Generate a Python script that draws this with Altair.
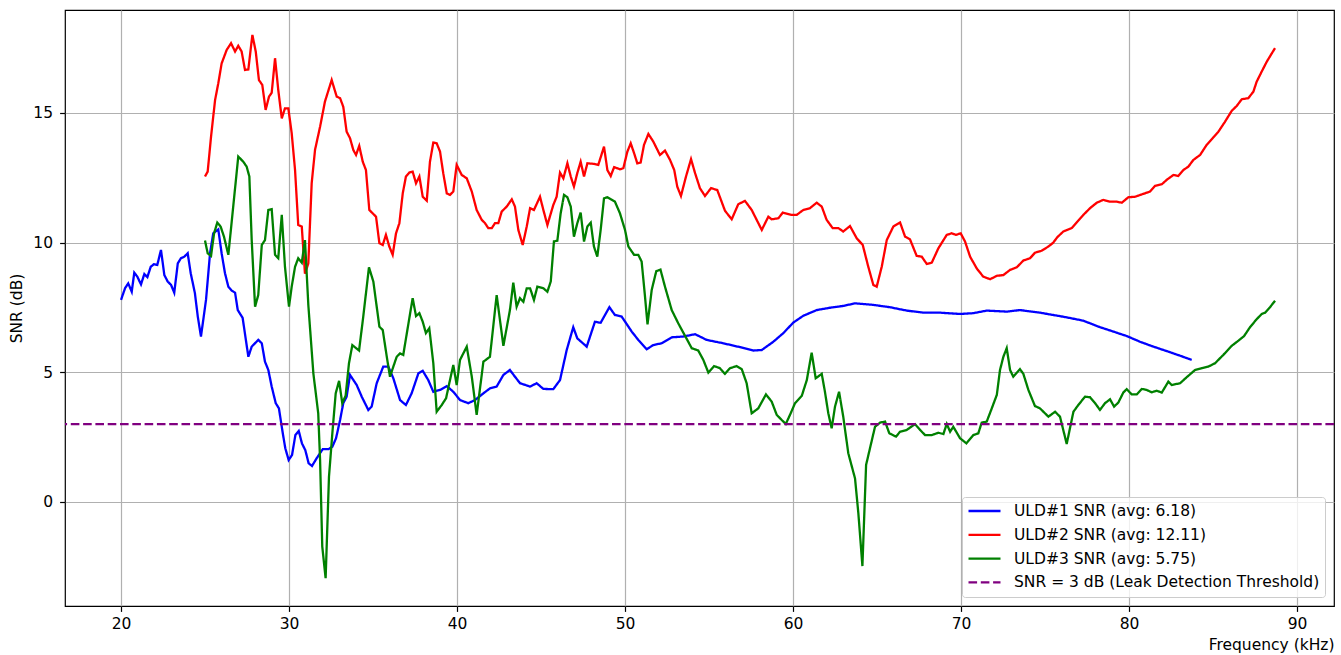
import altair as alt
import pandas as pd

# ---- series names (legend order) ----
names = [
    "ULD#1 SNR (avg: 6.18)",
    "ULD#2 SNR (avg: 12.11)",
    "ULD#3 SNR (avg: 5.75)",
    "SNR = 3 dB (Leak Detection Threshold)",
]
colors = ["blue", "red", "green", "purple"]
threshold_db = 3

# ---- ULD#1 ----
uld1_freq = [
    20.00, 20.24, 20.43, 20.64, 20.79, 20.97, 21.19, 21.39, 21.57, 21.77,
    21.96, 22.16, 22.38, 22.58, 22.78, 22.98, 23.17, 23.38, 23.57, 23.77,
    23.97, 24.15, 24.40, 24.57, 24.76, 25.06, 25.30, 25.49, 25.79, 25.99,
    26.19, 26.39, 26.59, 26.79, 26.95, 27.24, 27.58, 27.78, 28.17, 28.38,
    28.57, 28.77, 28.97, 29.21, 29.40, 29.63, 29.78, 29.98, 30.18, 30.38,
    30.58, 30.77, 30.97, 31.17, 31.37, 31.65, 32.01, 32.36, 32.58, 32.80,
    33.04, 33.23, 33.43, 33.63, 34.03, 34.33, 34.72, 34.92, 35.22, 35.61,
    35.91, 36.21, 36.61, 36.96, 37.30, 37.70, 37.96, 38.29, 38.59, 38.99,
    39.39, 39.78, 40.18, 40.67, 41.07, 41.57, 41.96, 42.36, 42.76, 43.15,
    43.45, 43.75, 44.35, 44.74, 45.14, 45.73, 46.13, 46.53, 46.92, 47.16,
    47.72, 48.21, 48.55, 49.07, 49.40, 49.80, 50.40, 50.79, 51.29, 51.68,
    52.18, 52.78, 53.47, 54.17, 54.86, 55.85, 56.85, 57.64, 58.14, 58.83,
    59.42, 60.02, 60.61, 61.41, 62.20, 62.99, 63.69, 64.78, 65.77, 66.77,
    67.76, 68.75, 69.94, 70.73, 71.53, 72.72, 73.51, 74.70, 75.49, 76.29,
    77.28, 78.27, 79.07, 79.86, 80.65, 81.45, 82.24, 83.04, 83.73,
]
uld1_snr = [
    7.79, 8.24, 8.43, 8.11, 8.84, 8.69, 8.39, 8.79, 8.67, 9.07,
    9.17, 9.14, 9.72, 8.75, 8.50, 8.37, 8.07, 9.20, 9.40, 9.46,
    9.59, 8.82, 8.05, 7.15, 6.38, 7.79, 9.59, 10.36, 10.51, 9.59,
    8.82, 8.30, 8.15, 8.07, 7.40, 7.10, 5.60, 5.99, 6.25, 6.12,
    5.41, 5.09, 4.45, 3.81, 3.61, 2.65, 2.07, 1.62, 1.81, 2.58,
    2.74, 2.26, 2.00, 1.49, 1.39, 1.69, 2.04, 2.04, 2.13, 2.46,
    3.16, 3.81, 4.06, 4.90, 4.51, 4.06, 3.55, 3.68, 4.58, 5.22,
    5.22, 4.77, 3.93, 3.74, 4.19, 4.96, 5.06, 4.70, 4.25, 4.32,
    4.47, 4.25, 3.93, 3.81, 3.93, 4.19, 4.38, 4.45, 4.90, 5.09,
    4.83, 4.58, 4.45, 4.58, 4.36, 4.35, 4.70, 5.86, 6.74, 6.31,
    5.99, 6.95, 6.91, 7.51, 7.21, 7.15, 6.57, 6.25, 5.89, 6.05,
    6.12, 6.35, 6.38, 6.47, 6.25, 6.12, 5.97, 5.84, 5.86, 6.18,
    6.51, 6.92, 7.18, 7.40, 7.49, 7.56, 7.66, 7.60, 7.51, 7.38,
    7.30, 7.30, 7.25, 7.28, 7.38, 7.34, 7.40, 7.30, 7.21, 7.12,
    6.99, 6.74, 6.57, 6.40, 6.18, 5.99, 5.82, 5.64, 5.48,
]

# ---- ULD#2 ----
uld2_freq = [
    25.00, 25.16, 25.36, 25.60, 25.79, 25.99, 26.29, 26.55, 26.79, 26.98,
    27.18, 27.38, 27.58, 27.82, 28.02, 28.21, 28.41, 28.61, 28.81, 28.97,
    29.17, 29.36, 29.57, 29.76, 29.96, 30.16, 30.36, 30.55, 30.76, 30.95,
    31.15, 31.35, 31.55, 31.85, 32.14, 32.54, 32.84, 33.04, 33.23, 33.43,
    33.63, 33.83, 33.99, 34.18, 34.39, 34.58, 34.78, 34.98, 35.18, 35.38,
    35.58, 35.77, 35.97, 36.17, 36.37, 36.57, 36.77, 36.96, 37.16, 37.36,
    37.56, 37.76, 37.96, 38.20, 38.39, 38.59, 38.79, 38.99, 39.18, 39.39,
    39.58, 39.78, 39.98, 40.28, 40.58, 40.88, 41.17, 41.47, 41.67, 41.86,
    42.07, 42.26, 42.46, 42.66, 42.96, 43.26, 43.45, 43.65, 43.91, 44.15,
    44.35, 44.58, 44.94, 45.14, 45.38, 45.73, 45.93, 46.13, 46.33, 46.57,
    46.77, 46.96, 47.16, 47.36, 47.56, 47.76, 48.11, 48.41, 48.75, 48.95,
    49.15, 49.35, 49.70, 49.90, 50.14, 50.34, 50.54, 50.73, 50.93, 51.13,
    51.39, 51.68, 52.08, 52.38, 52.68, 52.93, 53.11, 53.33, 53.63, 53.93,
    54.17, 54.46, 54.76, 55.12, 55.49, 55.95, 56.35, 56.74, 57.14, 57.54,
    58.14, 58.53, 58.73, 59.13, 59.39, 59.92, 60.22, 60.61, 61.01, 61.41,
    61.71, 62.00, 62.36, 62.70, 62.99, 63.39, 63.79, 64.15, 64.48, 64.78,
    64.98, 65.28, 65.58, 65.97, 66.37, 66.67, 66.96, 67.36, 67.66, 67.96,
    68.26, 68.65, 69.15, 69.45, 69.70, 69.98, 70.24, 70.54, 70.93, 71.32,
    71.73, 72.13, 72.52, 72.92, 73.32, 73.71, 74.11, 74.40, 74.80, 75.20,
    75.49, 75.73, 76.09, 76.59, 76.92, 77.28, 77.68, 78.08, 78.47, 78.87,
    79.27, 79.57, 79.96, 80.36, 80.85, 81.25, 81.55, 81.95, 82.24, 82.64,
    82.93, 83.23, 83.53, 83.83, 84.23, 84.62, 85.02, 85.32, 85.71, 86.11,
    86.41, 86.71, 87.10, 87.40, 87.60, 87.90, 88.20, 88.50, 88.69,
]
uld2_snr = [
    12.55, 12.74, 14.09, 15.50, 16.14, 16.91, 17.43, 17.69, 17.37, 17.59,
    17.37, 16.66, 16.68, 18.01, 17.37, 16.27, 16.08, 15.12, 15.63, 15.78,
    17.11, 15.89, 14.79, 15.18, 15.18, 14.22, 12.80, 10.68, 10.62, 8.80,
    9.20, 12.29, 13.58, 14.47, 15.44, 16.27, 15.63, 15.57, 15.24, 14.28,
    14.03, 13.57, 13.38, 13.73, 13.12, 12.80, 11.26, 11.13, 11.00, 9.98,
    9.91, 10.30, 9.85, 9.53, 10.36, 10.75, 11.90, 12.55, 12.70, 12.74,
    12.29, 12.55, 11.77, 11.62, 13.12, 13.86, 13.83, 13.51, 12.68, 11.90,
    11.84, 11.97, 13.00, 12.61, 12.48, 11.97, 11.26, 10.88, 10.75, 10.56,
    10.56, 10.75, 10.75, 11.20, 11.39, 11.67, 11.39, 10.49, 9.91, 10.62,
    11.33, 11.26, 11.77, 11.26, 10.68, 11.45, 11.77, 12.70, 12.48, 13.06,
    12.55, 12.16, 12.68, 13.12, 12.55, 13.06, 13.04, 13.00, 13.70, 12.80,
    12.57, 12.91, 12.83, 12.87, 13.51, 13.83, 13.45, 13.06, 13.09, 13.77,
    14.19, 13.90, 13.38, 13.55, 13.19, 12.80, 12.16, 11.80, 12.55, 13.22,
    12.68, 12.10, 11.80, 12.10, 12.03, 11.23, 10.90, 11.48, 11.61, 11.26,
    10.49, 11.00, 10.90, 10.94, 11.16, 11.07, 11.07, 11.26, 11.33, 11.54,
    11.39, 10.88, 10.56, 10.56, 10.43, 10.64, 10.17, 9.91, 9.07, 8.37,
    8.30, 9.07, 10.10, 10.62, 10.78, 10.23, 10.13, 9.49, 9.46, 9.18,
    9.23, 9.78, 10.30, 10.36, 10.30, 10.36, 10.04, 9.46, 9.01, 8.69,
    8.59, 8.72, 8.75, 8.95, 9.05, 9.31, 9.40, 9.61, 9.69, 9.85,
    10.00, 10.21, 10.43, 10.56, 10.81, 11.07, 11.33, 11.54, 11.65, 11.58,
    11.58, 11.54, 11.75, 11.77, 11.88, 11.97, 12.19, 12.25, 12.42, 12.61,
    12.57, 12.80, 12.93, 13.19, 13.38, 13.77, 14.06, 14.28, 14.66, 15.08,
    15.27, 15.53, 15.57, 15.82, 16.21, 16.60, 16.98, 17.30, 17.50,
]

# ---- ULD#3 ----
uld3_freq = [
    25.00, 25.16, 25.36, 25.54, 25.73, 25.93, 26.13, 26.39, 26.68, 26.98,
    27.28, 27.48, 27.64, 27.78, 27.98, 28.17, 28.38, 28.57, 28.77, 28.97,
    29.17, 29.36, 29.57, 29.76, 30.00, 30.16, 30.36, 30.55, 30.76, 30.95,
    31.15, 31.45, 31.74, 31.85, 31.98, 32.18, 32.38, 32.58, 32.78, 32.98,
    33.17, 33.37, 33.57, 33.77, 34.17, 34.42, 34.76, 35.02, 35.38, 35.58,
    35.82, 36.01, 36.21, 36.41, 36.61, 36.80, 37.16, 37.36, 37.56, 37.76,
    37.96, 38.15, 38.35, 38.59, 38.79, 39.09, 39.35, 39.54, 39.78, 39.98,
    40.18, 40.58, 40.88, 41.17, 41.57, 41.96, 42.36, 42.76, 43.15, 43.35,
    43.55, 43.75, 43.95, 44.15, 44.35, 44.58, 44.78, 45.14, 45.38, 45.58,
    45.77, 45.97, 46.17, 46.37, 46.57, 46.77, 46.96, 47.16, 47.36, 47.56,
    47.76, 47.96, 48.15, 48.35, 48.55, 48.75, 48.95, 49.21, 49.40, 49.70,
    50.00, 50.20, 50.54, 50.79, 50.99, 51.19, 51.34, 51.59, 51.86, 52.11,
    52.38, 52.78, 53.17, 53.57, 53.97, 54.36, 54.66, 54.96, 55.30, 55.65,
    55.95, 56.25, 56.65, 56.95, 57.24, 57.54, 57.93, 58.39, 58.73, 59.03,
    59.33, 59.57, 59.82, 60.12, 60.52, 60.82, 61.11, 61.35, 61.71, 61.90,
    62.10, 62.30, 62.50, 62.74, 62.99, 63.29, 63.69, 63.89, 64.13, 64.35,
    64.58, 64.88, 65.18, 65.48, 65.73, 66.13, 66.37, 66.77, 67.26, 67.56,
    67.86, 68.26, 68.65, 68.95, 69.15, 69.35, 69.54, 69.94, 70.32, 70.73,
    71.03, 71.23, 71.53, 71.83, 72.13, 72.32, 72.52, 72.72, 72.92, 73.11,
    73.51, 73.71, 74.01, 74.40, 74.70, 75.20, 75.60, 75.89, 76.29, 76.69,
    76.98, 77.38, 77.68, 77.98, 78.27, 78.57, 78.87, 79.11, 79.36, 79.66,
    79.86, 80.16, 80.46, 80.76, 81.05, 81.35, 81.65, 81.95, 82.34, 82.54,
    83.04, 83.43, 83.93, 84.33, 84.72, 85.12, 85.61, 86.11, 86.51, 86.85,
    87.20, 87.60, 87.90, 88.10, 88.39, 88.69,
]
uld3_snr = [
    10.08, 9.59, 9.49, 10.36, 10.77, 10.62, 10.23, 9.53, 11.39, 13.32,
    13.12, 12.93, 12.55, 10.10, 7.53, 7.98, 9.91, 10.10, 11.26, 11.29,
    9.53, 9.40, 11.07, 9.07, 7.53, 8.30, 9.07, 9.40, 9.23, 10.10,
    7.60, 4.96, 3.42, 1.62, -1.72, -2.94, 0.98, 2.65, 4.19, 4.67,
    3.81, 4.10, 5.35, 6.05, 5.84, 7.15, 9.05, 8.50, 6.76, 6.63,
    5.60, 4.83, 5.22, 5.60, 5.73, 5.67, 7.08, 7.86, 7.17, 7.28,
    6.95, 6.51, 6.70, 5.35, 3.48, 3.74, 4.00, 4.58, 5.28, 4.51,
    5.48, 5.99, 4.83, 3.36, 5.41, 5.60, 7.98, 6.02, 7.40, 8.46,
    7.53, 7.86, 7.72, 8.24, 8.24, 7.79, 8.30, 8.24, 8.11, 8.50,
    10.05, 10.07, 11.13, 11.84, 11.75, 11.39, 10.23, 10.75, 11.16, 10.04,
    10.62, 10.77, 9.85, 9.46, 10.49, 11.71, 11.75, 11.65, 11.58, 11.13,
    10.49, 9.85, 9.53, 9.53, 9.27, 7.92, 6.85, 8.18, 8.90, 8.96,
    8.30, 7.40, 6.89, 6.41, 5.93, 5.84, 5.48, 4.99, 5.24, 5.16,
    4.94, 5.16, 5.24, 5.12, 4.58, 3.42, 3.61, 4.15, 3.87, 3.36,
    3.16, 3.01, 3.36, 3.81, 4.09, 4.70, 5.76, 4.77, 4.94, 4.25,
    3.42, 2.84, 3.68, 4.25, 3.29, 1.88, 0.91, -0.44, -2.47, 1.43,
    2.07, 2.90, 3.06, 3.10, 2.65, 2.52, 2.71, 2.78, 3.00, 2.78,
    2.58, 2.58, 2.67, 2.62, 3.01, 2.71, 2.90, 2.46, 2.26, 2.58,
    2.65, 3.06, 3.10, 3.61, 4.13, 5.09, 5.60, 5.93, 5.09, 4.83,
    5.12, 4.94, 4.32, 3.70, 3.61, 3.29, 3.48, 3.29, 2.24, 3.48,
    3.74, 4.06, 4.04, 3.81, 3.55, 3.81, 3.96, 3.68, 3.83, 4.22,
    4.35, 4.15, 4.15, 4.36, 4.32, 4.23, 4.29, 4.22, 4.64, 4.51,
    4.58, 4.81, 5.09, 5.16, 5.22, 5.35, 5.67, 6.02, 6.22, 6.40,
    6.74, 7.05, 7.25, 7.30, 7.51, 7.76,
]

# ---- axis ticks ----
x_ticks = [20, 30, 40, 50, 60, 70, 80, 90]
y_ticks = [0, 5, 10, 15]

FONT = "DejaVu Sans"
FS = 15.5

curves = pd.concat(
    [
        pd.DataFrame({"freq": uld1_freq, "snr": uld1_snr, "series": names[0]}),
        pd.DataFrame({"freq": uld2_freq, "snr": uld2_snr, "series": names[1]}),
        pd.DataFrame({"freq": uld3_freq, "snr": uld3_snr, "series": names[2]}),
    ],
    ignore_index=True,
)
threshold = pd.DataFrame({"snr": [threshold_db], "series": [names[3]]})

color_scale = alt.Scale(domain=names, range=colors)
dash_scale = alt.Scale(domain=names, range=[[1, 0], [1, 0], [1, 0], [8.6, 3.7]])
legend = alt.Legend(
    title=None,
    orient="bottom-right",
    offset=9,
    symbolType="stroke",
    symbolSize=1024,
    symbolStrokeWidth=2.3,
    labelFont=FONT,
    labelFontSize=FS,
    labelColor="black",
    labelOffset=12,
    labelLimit=400,
    clipHeight=18,
    rowPadding=5.8,
    padding=5,
    fillColor="rgba(255,255,255,0.8)",
    strokeColor="#cccccc",
    cornerRadius=3,
)

x_enc = alt.X(
    "freq:Q",
    scale=alt.Scale(domain=[16.667, 92.2], nice=False, zero=False),
    axis=alt.Axis(values=x_ticks, format="d", title="Frequency (kHz)",
                  titleAnchor="end", titlePadding=6),
)
y_scale = alt.Scale(domain=[-4.01, 18.97], nice=False, zero=False)

lines = alt.Chart(curves).mark_line(strokeWidth=2.3, clip=True).encode(
    x=x_enc,
    y=alt.Y("snr:Q", scale=y_scale,
            axis=alt.Axis(values=y_ticks, title="SNR (dB)", titlePadding=8)),
    color=alt.Color("series:N", scale=color_scale, legend=legend),
    strokeDash=alt.StrokeDash("series:N", scale=dash_scale, legend=legend),
    detail="series:N",
)

rule = alt.Chart(threshold).mark_rule(strokeWidth=2.3).encode(
    y=alt.Y("snr:Q", scale=y_scale),
    color=alt.Color("series:N", scale=color_scale, legend=legend),
    strokeDash=alt.StrokeDash("series:N", scale=dash_scale, legend=legend),
)

chart = (
    alt.layer(lines, rule)
    .properties(
        width=1269,
        height=596,
        padding={"left": 65, "top": 10, "right": 7, "bottom": 49},
        autosize=alt.AutoSizeParams(type="none"),
        background="white",
    )
    .configure_view(stroke="black", strokeWidth=1.2)
    .configure_axis(
        domain=False,
        grid=True,
        gridColor="#b0b0b0",
        gridWidth=1.2,
        tickColor="black",
        tickSize=5.4,
        tickWidth=1.2,
        labelFont=FONT,
        labelFontSize=FS,
        labelColor="black",
        labelPadding=5,
        titleFont=FONT,
        titleFontSize=FS,
        titleFontWeight="normal",
        titleColor="black",
    )
    .configure_axisY(labelPadding=7)
)

chart.save("out.html", embed_options={"renderer": "svg", "actions": False})
